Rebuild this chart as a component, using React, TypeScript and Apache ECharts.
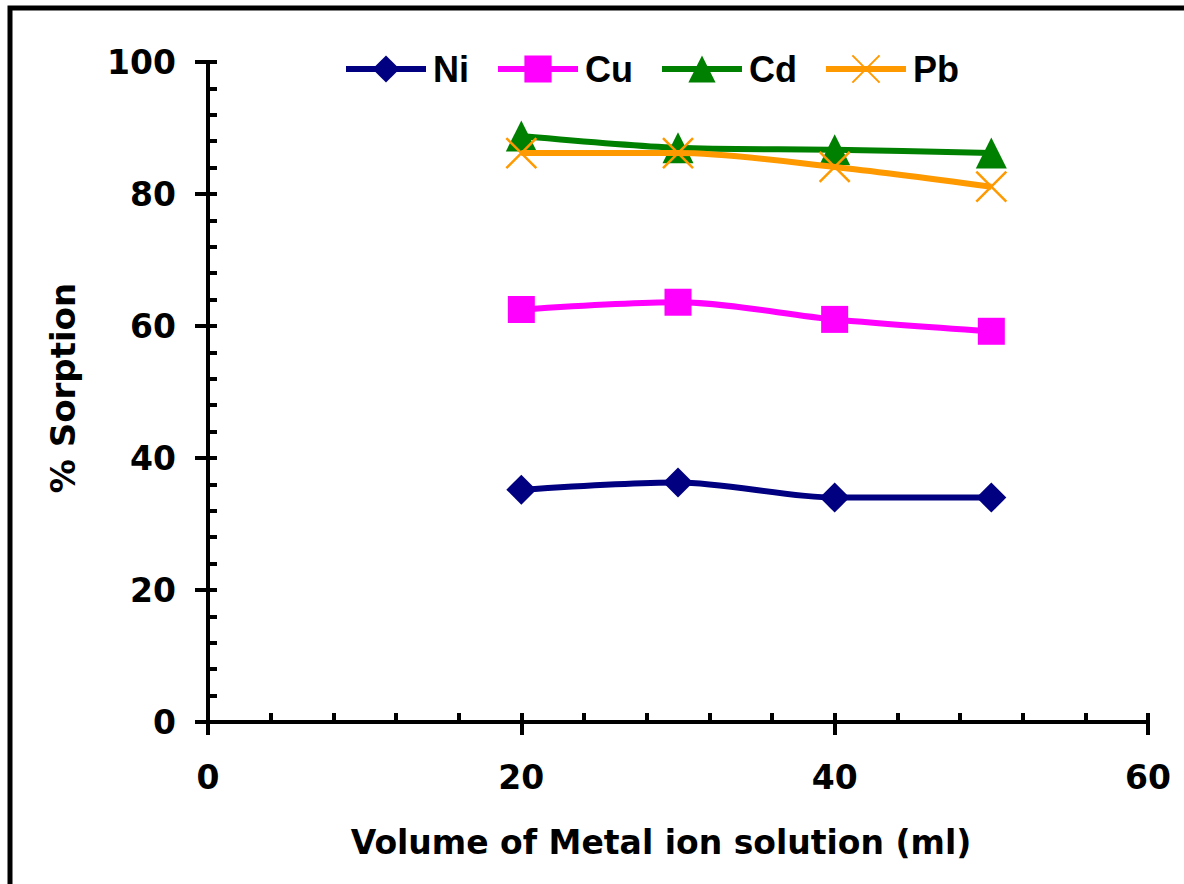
import React, { useEffect, useRef } from "react";
import * as echarts from "echarts";

const volumes = [20, 30, 40, 50];
const niValues = [35.2, 36.3, 34.0, 34.0];
const cuValues = [62.5, 63.6, 61.0, 59.2];
const cdValues = [88.8, 87.0, 86.7, 86.2];
const pbValues = [86.2, 86.2, 84.1, 81.1];
const seriesNames = ["Ni", "Cu", "Cd", "Pb"];
const xTitle = "Volume of Metal ion solution (ml)";
const yTitle = "% Sorption";

const FONT = "'DejaVu Sans', Verdana, sans-serif";

function pairs(vals: number[]) {
  return volumes.map((v, i) => [v, vals[i]]);
}

export default function App() {
  const ref = useRef<HTMLDivElement>(null);
  useEffect(() => {
    if (!ref.current) return;
    const chart = echarts.init(ref.current, null, { renderer: "svg" });
    const axisColor = "#000";
    const lineW = 6;
    const mk = (name: string, vals: number[], color: string, symbol: string, size: number) => ({
      name,
      type: "line",
      data: pairs(vals),
      smooth: 0.3,
      symbol,
      symbolSize: size,
      lineStyle: { color, width: lineW },
      itemStyle: { color },
      z: 2,
    });
    chart.setOption({
      animation: false,
      backgroundColor: "#fff",
      grid: { left: 208, top: 62, width: 940, height: 660, containLabel: false },
      legend: {
        left: 338,
        top: 46,
        itemWidth: 80,
        itemHeight: 34,
        itemGap: 26,
        data: seriesNames,
        lineStyle: { width: 6 },
        textStyle: {
          fontFamily: "'Liberation Sans Narrow', 'Liberation Sans', Arial, sans-serif",
          fontWeight: "bold",
          fontSize: 36,
          color: "#000",
          padding: [0, 0, 0, 2],
        },
      },
      xAxis: [
        {
          type: "value",
          min: 0,
          max: 60,
          interval: 20,
          position: "bottom",
          axisLine: { show: true, lineStyle: { color: axisColor, width: 4 } },
          axisTick: { show: true, inside: false, length: 13, lineStyle: { color: axisColor, width: 4 } },
          axisLabel: { margin: 39, fontFamily: FONT, fontWeight: "bold", fontSize: 33, color: "#000" },
          splitLine: { show: false },
        },
        {
          type: "value",
          min: 0,
          max: 60,
          interval: 4,
          position: "bottom",
          axisLine: { show: false },
          axisTick: { show: true, inside: true, length: 9, lineStyle: { color: axisColor, width: 4 } },
          axisLabel: { show: false },
          splitLine: { show: false },
        },
      ],
      yAxis: [
        {
          type: "value",
          min: 0,
          max: 100,
          interval: 20,
          position: "left",
          axisLine: { show: true, lineStyle: { color: axisColor, width: 4 } },
          axisTick: { show: true, inside: false, length: 13, lineStyle: { color: axisColor, width: 4 } },
          axisLabel: { margin: 32, fontFamily: FONT, fontWeight: "bold", fontSize: 33, color: "#000" },
          splitLine: { show: false },
        },
        {
          type: "value",
          min: 0,
          max: 100,
          interval: 4,
          position: "left",
          axisLine: { show: false },
          axisTick: { show: true, inside: true, length: 9, lineStyle: { color: axisColor, width: 4 } },
          axisLabel: { show: false },
          splitLine: { show: false },
        },
      ],
      graphic: [
        {
          type: "rect",
          shape: { x: 10, y: 8, width: 1500, height: 1200 },
          style: { fill: "none", stroke: "#000", lineWidth: 5 },
          silent: true,
        },
        {
          type: "text",
          x: 661,
          y: 842,
          style: {
            text: xTitle,
            fontFamily: FONT,
            fontWeight: "bold",
            fontSize: 33,
            fill: "#000",
            align: "center",
            verticalAlign: "middle",
          },
        },
        {
          type: "text",
          x: 63,
          y: 388,
          rotation: Math.PI / 2,
          style: {
            text: yTitle,
            fontFamily: FONT,
            fontWeight: "bold",
            fontSize: 34,
            fill: "#000",
            align: "center",
            verticalAlign: "middle",
          },
        },
      ],
      series: [
        mk("Ni", niValues, "#000080", "diamond", 30),
        mk("Cu", cuValues, "#FF00FF", "rect", 27),
        mk("Cd", cdValues, "#008000", "triangle", 31),
        {
          name: "Pb",
          type: "line",
          data: pairs(pbValues),
          smooth: 0.3,
          symbol: "path://M0,0L10,10M10,0L0,10",
          symbolSize: 30,
          lineStyle: { color: "#FF9900", width: lineW },
          itemStyle: { color: "none", borderColor: "#FF9900", borderWidth: 2.5 },
          z: 3,
        },
      ],
    });
    return () => chart.dispose();
  }, []);
  return (
    <div
      ref={ref}
      style={{ position: "fixed", left: 0, top: 0, width: 1184, height: 884 }}
    />
  );
}
